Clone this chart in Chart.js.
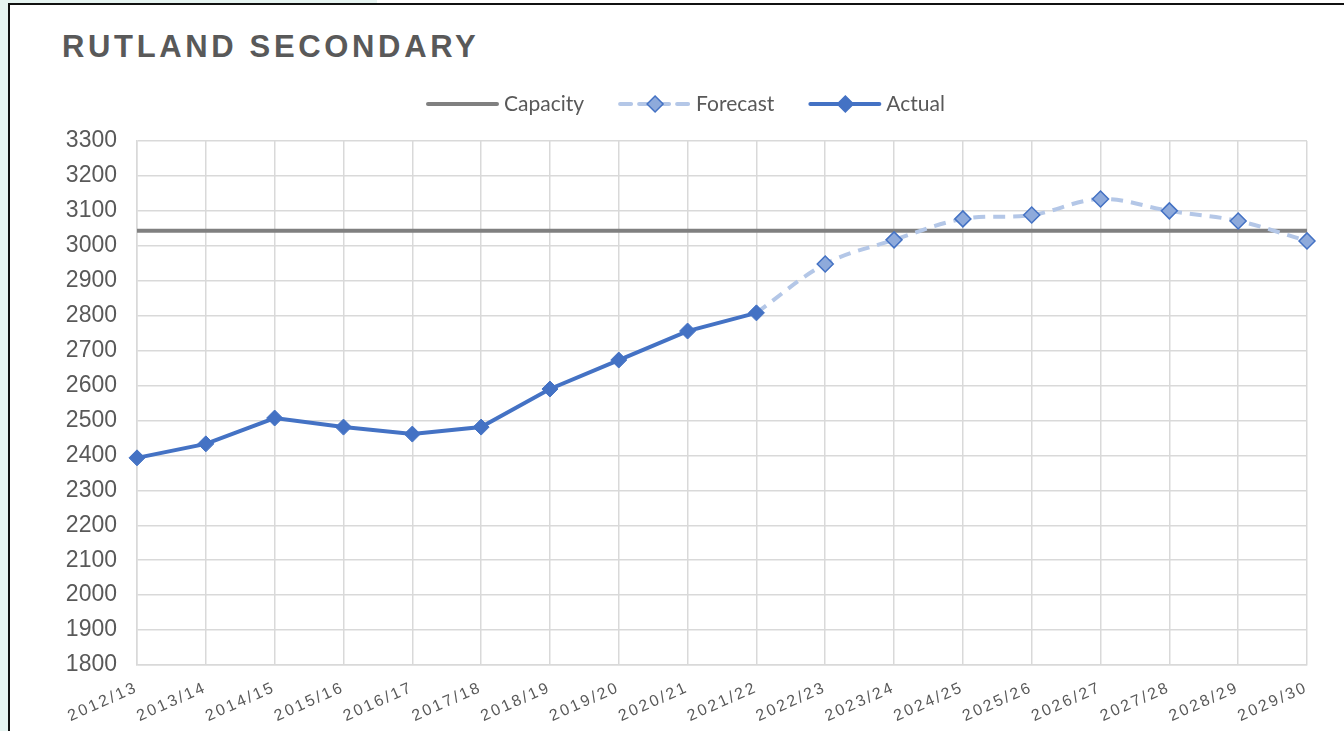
<!DOCTYPE html>
<html>
<head>
<meta charset="utf-8">
<title>Rutland Secondary</title>
<script src="https://cdn.jsdelivr.net/npm/chart.js@4"></script>
<style>
  html, body { margin: 0; padding: 0; }
  body { width: 1344px; height: 731px; background: #ffffff; position: relative; overflow: hidden; }
  .teal-left { position: absolute; left: 0; top: 0; width: 9px; height: 731px; background: #e6f4f1; }
  .teal-top { position: absolute; left: 0; top: 0; width: 377px; height: 4px; background: #e6f4f1; }
  .frame { position: absolute; left: 8px; top: 3px; width: 1340px; height: 740px; border-left: 2px solid #111; border-top: 2px solid #111; background: #fff; }
  .title { position: absolute; left: 62px; top: 29px; font: bold 31px "Liberation Sans", Arial, sans-serif; letter-spacing: 3.65px; color: #595959; }
  #wrap { position: absolute; left: 0; top: 0; width: 1344px; height: 731px; }
</style>
</head>
<body>
<div class="teal-left"></div>
<div class="teal-top"></div>
<div class="frame"></div>
<div class="title">RUTLAND SECONDARY</div>
<div id="wrap"><canvas id="chart"></canvas></div>
<script>
// Chart data
const years = ["2012/13", "2013/14", "2014/15", "2015/16", "2016/17", "2017/18", "2018/19", "2019/20", "2020/21",
  "2021/22", "2022/23", "2023/24", "2024/25", "2025/26", "2026/27", "2027/28", "2028/29", "2029/30"];
const actual = [2393, 2433, 2507, 2481, 2461, 2481, 2590, 2673, 2756, 2808,
  null, null, null, null, null, null, null, null];
const forecast = [null, null, null, null, null, null, null, null, null, 2808,
  2948, 3017, 3077, 3088, 3134, 3100, 3071, 3014];
const capacity = [3043, 3043, 3043, 3043, 3043, 3043, 3043, 3043, 3043, 3043,
  3043, 3043, 3043, 3043, 3043, 3043, 3043, 3043];
const yMin = 1800;
const yMax = 3300;
const yStep = 100;

const BLUE = '#4472c4';
const LIGHT = '#b4c7e7';
const GREY = '#808080';
const TEXT = '#595959';

// Legend drawn by hand: Excel style line + marker samples
const legendPlugin = {
  id: 'excelLegend',
  afterDraw(chart) {
    const ctx = chart.ctx;
    const items = [
      { label: 'Capacity', color: GREY, dash: [], marker: false },
      { label: 'Forecast', color: LIGHT, dash: [11, 8], marker: true, fill: '#8eaadb' },
      { label: 'Actual', color: BLUE, dash: [], marker: true, fill: BLUE }
    ];
    const y = 104;
    let x = 428;
    ctx.save();
    ctx.font = '21px Lato, "Open Sans", sans-serif';
    ctx.textBaseline = 'middle';
    items.forEach(it => {
      ctx.beginPath();
      ctx.setLineDash(it.dash);
      ctx.lineCap = 'round';
      ctx.lineWidth = 4;
      ctx.strokeStyle = it.color;
      ctx.moveTo(x, y);
      ctx.lineTo(x + 69, y);
      ctx.stroke();
      ctx.setLineDash([]);
      if (it.marker) {
        const cx = x + 35, r = 8;
        ctx.beginPath();
        ctx.moveTo(cx, y - r);
        ctx.lineTo(cx + r, y);
        ctx.lineTo(cx, y + r);
        ctx.lineTo(cx - r, y);
        ctx.closePath();
        ctx.fillStyle = it.fill;
        ctx.fill();
        ctx.lineWidth = 1.5;
        ctx.strokeStyle = BLUE;
        ctx.stroke();
      }
      ctx.fillStyle = TEXT;
      ctx.fillText(it.label, x + 76, y);
      x += 76 + ctx.measureText(it.label).width + 36;
    });
    ctx.restore();
  }
};

// Letter spacing on the category labels
const spacedLabels = {
  id: 'spacedLabels',
  beforeDraw(chart) {
    const s = chart.scales.x;
    if (s._spaced) return;
    const orig = s.drawLabels.bind(s);
    s.drawLabels = function(area) {
      this.ctx.save();
      this.ctx.letterSpacing = '2.4px';
      orig(area);
      this.ctx.restore();
    };
    s._spaced = true;
  }
};

const ctx = document.getElementById('chart').getContext('2d');
new Chart(ctx, {
  type: 'line',
  data: {
    labels: years,
    datasets: [
      {
        label: 'Actual',
        data: actual,
        borderColor: BLUE,
        backgroundColor: BLUE,
        borderWidth: 4,
        pointStyle: 'rectRot',
        pointRadius: 8,
        pointBorderWidth: 1,
        pointBorderColor: BLUE,
        pointBackgroundColor: BLUE,
        tension: 0,
        order: 0
      },
      {
        label: 'Forecast',
        data: forecast,
        borderColor: LIGHT,
        backgroundColor: '#8eaadb',
        borderWidth: 4,
        borderDash: [12, 8],
        pointStyle: 'rectRot',
        pointRadius: [0, 0, 0, 0, 0, 0, 0, 0, 0, 0, 8, 8, 8, 8, 8, 8, 8, 8],
        pointBorderWidth: 1.5,
        pointBorderColor: BLUE,
        pointBackgroundColor: '#8eaadb',
        tension: 0.35,
        order: 1
      },
      {
        label: 'Capacity',
        data: capacity,
        borderColor: GREY,
        borderWidth: 4,
        pointRadius: 0,
        tension: 0,
        order: 2
      }
    ]
  },
  options: {
    responsive: true,
    maintainAspectRatio: false,
    animation: false,
    layout: { padding: { top: 141, right: 37, left: 0, bottom: 0 } },
    plugins: {
      legend: { display: false },
      tooltip: { enabled: false }
    },
    scales: {
      x: {
        offset: false,
        grid: { color: '#d9d9d9', lineWidth: 1.5, drawTicks: false },
        border: { color: '#d9d9d9', width: 1.5 },
        ticks: {
          color: TEXT,
          font: { family: '"Liberation Sans", Arial, sans-serif', size: 16 },
          minRotation: 24,
          maxRotation: 24,
          padding: 13,
          autoSkip: false
        },
        afterFit(scale) { scale.height = 66; }
      },
      y: {
        min: yMin,
        max: yMax,
        grid: { color: '#d9d9d9', lineWidth: 1.5, drawTicks: false },
        border: { color: '#d9d9d9', width: 1.5 },
        ticks: {
          stepSize: yStep,
          color: TEXT,
          font: { family: '"Liberation Sans", Arial, sans-serif', size: 23 },
          padding: 20,
          callback: v => String(v)
        },
        afterFit(scale) { scale.width = 137; }
      }
    }
  },
  plugins: [legendPlugin, spacedLabels]
});
</script>
</body>
</html>
